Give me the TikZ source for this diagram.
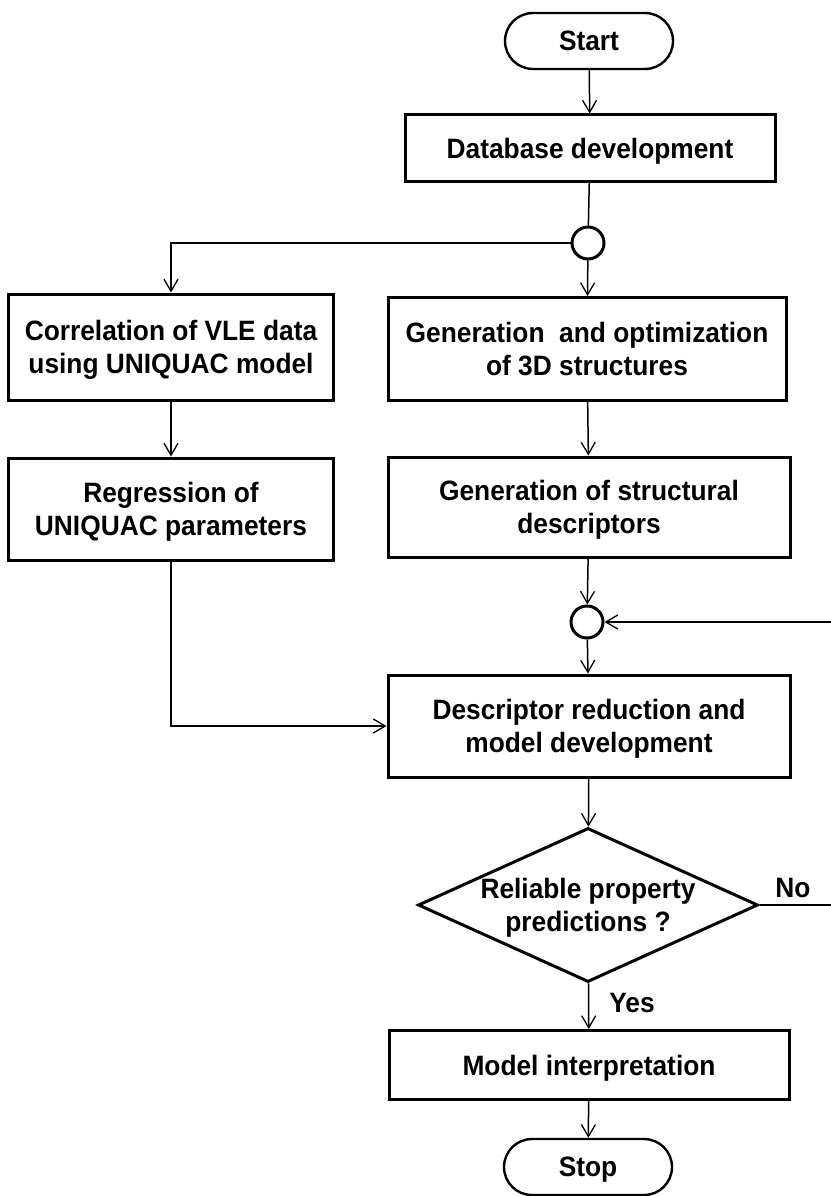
\documentclass[tikz,border=0pt]{standalone}
\usepackage{fontspec}
\setmainfont[FakeStretch=0.94]{Liberation Sans}
\usetikzlibrary{arrows.meta,shapes.geometric,shapes.misc}
\begin{document}
\begin{tikzpicture}[x=1pt,y=-1pt,
  every node/.style={font=\fontsize{28}{33}\selectfont\bfseries, align=center, inner sep=0pt, text depth=0pt},
  box/.style={draw, line width=3pt, rectangle},
  term/.style={draw, line width=2.4pt, rounded rectangle, minimum width=168pt, minimum height=56pt},
  junction/.style={draw, line width=3pt, circle, minimum size=32pt},
  decision/.style={draw, line width=3pt, diamond, aspect=2.2, minimum width=340pt, minimum height=154pt},
  flow/.style={line width=1.5pt, -{Straight Barb[length=12pt,width=14pt,line width=1.3pt]}},
  link/.style={line width=1.5pt}]
\useasboundingbox (0,0) rectangle (830,1196);

% process steps
\node[term] (start) at (589,41) {Start};
\node[box, minimum width=370pt, minimum height=66pt] (db) at (590,148) {Database development};
\node[junction] (c1) at (588,243) {};
\node[box, minimum width=325pt, minimum height=106pt] (corr) at (171,347) {Correlation of VLE data\\using UNIQUAC model};
\node[box, minimum width=398pt, minimum height=103pt] (gen3d) at (587,349) {Generation~ and optimization\\of 3D structures};
\node[box, minimum width=325pt, minimum height=102pt] (regr) at (171,509) {Regression of\\UNIQUAC parameters};
\node[box, minimum width=402pt, minimum height=100pt] (gendesc) at (589,507) {Generation of structural\\descriptors};
\node[junction] (c2) at (587,622) {};
\node[box, minimum width=402pt, minimum height=102pt] (red) at (589,726) {Descriptor reduction and\\model development};
\node[decision] (dec) at (588,905) {Reliable property\\predictions ?};
\node[box, minimum width=400pt, minimum height=69pt] (interp) at (589,1065) {Model interpretation};
\node[term] (stop) at (588,1167) {Stop};

% branch labels
\node (no) at (793,888) {No};
\node (yes) at (632,1003) {Yes};

% connectors
\coordinate (fbdown) at (834,905);
\coordinate (fbup) at (834,622);
\draw[flow] (start) -- (db);
\draw[link] (db) -- (c1);
\draw[flow] (c1) -- (gen3d);
\draw[flow] (c1.west) -| (corr.north);
\draw[flow] (corr) -- (regr);
\draw[flow] (gen3d) -- (gendesc);
\draw[flow] (gendesc) -- (c2);
\draw[flow] (c2) -- (red);
\draw[flow] (regr.south) |- (red.west);
\draw[flow] (red) -- (dec);
\draw[flow] (dec) -- (interp);
\draw[flow] (interp) -- (stop);
\draw[link] (dec.east) -- (fbdown) -- (fbup);
\draw[flow] (fbup) -- (c2.east);
\end{tikzpicture}
\end{document}
